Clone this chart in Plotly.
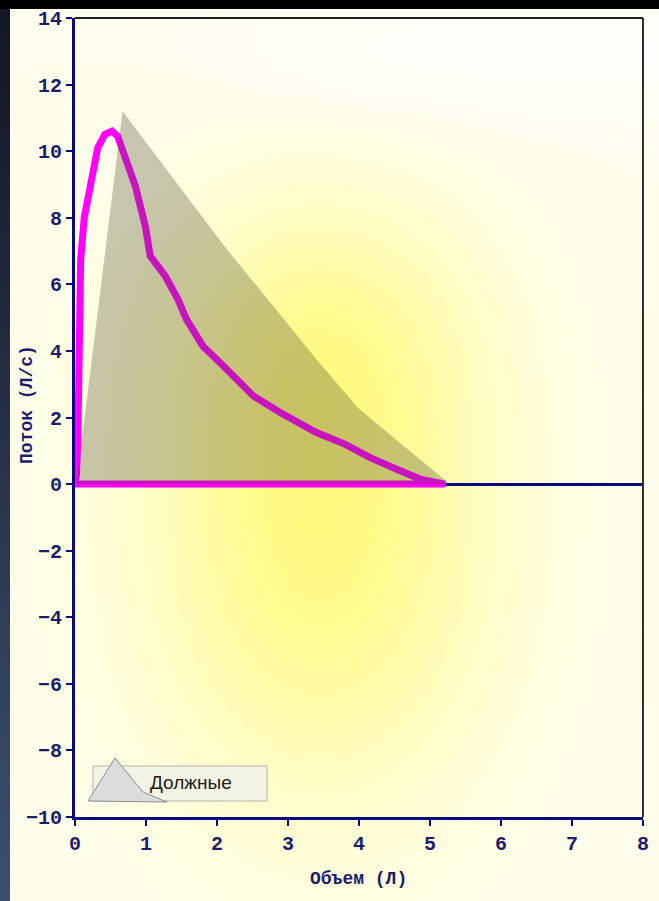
import base64, struct, zlib
import numpy as np
import plotly.graph_objects as go

# ---- data ----
measured_volume = [0.0, 0.02, 0.04, 0.05, 0.065, 0.08, 0.13, 0.22, 0.32, 0.42, 0.52, 0.60, 0.66,
                   0.85, 0.99, 1.06, 1.27, 1.45, 1.57, 1.80, 2.09, 2.51, 2.89, 3.40, 3.80, 4.15,
                   4.58, 4.86, 5.21, 0.0]
measured_flow = [0.0, 0.25, 1.35, 4.05, 5.5, 6.75, 8.0, 9.05, 10.1, 10.5, 10.6, 10.45, 10.05,
                 8.95, 7.75, 6.85, 6.25, 5.55, 4.95, 4.15, 3.55, 2.65, 2.15, 1.55, 1.2, 0.8,
                 0.4, 0.15, 0.0, 0.0]
predicted_volume = [0.02, 0.67, 2.14, 3.40, 3.98, 4.60, 5.28, 0.02]
predicted_flow = [0.0, 11.2, 7.05, 3.75, 2.3, 1.2, 0.0, 0.0]
predicted_name = "Должные"
x_ticks = [0, 1, 2, 3, 4, 5, 6, 7, 8]
y_ticks = [-10, -8, -6, -4, -2, 0, 2, 4, 6, 8, 10, 12, 14]
x_title = "Объем (Л)"
y_title = "Поток (Л/с)"

W, H = 659, 901
L, R, T, B = 75, 16, 18, 84
PW, PH = W - L - R, H - T - B


def px(x):   # page pixel -> paper x
    return (x - L) / PW


def py(y):   # page pixel -> paper y
    return (H - B - y) / PH


# ---- background gradient image ----
yy, xx = np.mgrid[0:H, 0:W].astype(float)
base = np.array([255, 255, 238], float)
yellow = np.array([255, 250, 120], float)
t1 = 0.9 * np.exp(-(((xx - 320) / 170) ** 2 + ((yy - 530) / 260) ** 2))
t2 = 0.35 * np.exp(-(((xx - 320) / 150) ** 2 + ((yy - 330) / 130) ** 2))
t = np.clip(t1 + t2, 0, 1)[..., None]
img = base * (1 - t) + yellow * t
sig = 1 / (1 + np.exp(-(xx - 260) / 60))
tw = (0.85 * np.exp(-(((yy - 50) / 70) ** 2)) * sig)[..., None]
img = img * (1 - tw) + np.array([255, 255, 253]) * tw
strip = xx < 10
frac = (yy / H)[..., None]
navy = np.array([18, 22, 34]) * (1 - frac) + np.array([62, 80, 110]) * frac
img = np.where(strip[..., None], navy, img)
img[:9, :, :] = 0
img = np.clip(img, 0, 255).astype(np.uint8)


def png_bytes(a):
    h, w, _ = a.shape
    raw = b"".join(b"\x00" + a[i].tobytes() for i in range(h))

    def chunk(tag, data):
        c = struct.pack(">I", len(data)) + tag + data
        return c + struct.pack(">I", zlib.crc32(tag + data) & 0xffffffff)

    return (b"\x89PNG\r\n\x1a\n" + chunk(b"IHDR", struct.pack(">IIBBBBB", w, h, 8, 2, 0, 0, 0))
            + chunk(b"IDAT", zlib.compress(raw, 9)) + chunk(b"IEND", b""))


src = "data:image/png;base64," + base64.b64encode(png_bytes(img)).decode()

navy_c = "#0a0a80"
tick_font = dict(family="Liberation Mono", size=20, color="#1c1c6c", weight="bold")
title_font = dict(family="Liberation Mono", size=18, color="#1c1c6c", weight="bold")

fig = go.Figure()
fig.add_trace(go.Scatter(x=measured_volume, y=measured_flow, mode="lines",
                         line=dict(color="#ff00ff", width=7), showlegend=False,
                         hoverinfo="skip"))
fig.add_trace(go.Scatter(x=predicted_volume, y=predicted_flow, mode="none", fill="toself",
                         fillcolor="rgba(70,65,40,0.3)", name=predicted_name,
                         showlegend=False))

# legend box drawn as decoration (box + triangle icon + label)
legend_box = dict(type="rect", xref="paper", yref="paper", x0=px(93), x1=px(267),
                  y0=py(801), y1=py(766), fillcolor="#f4f4e4",
                  line=dict(color="#b4b4a4", width=1), layer="above")
legend_icon = dict(type="path", xref="paper", yref="paper",
                   path=f"M {px(88)} {py(801)} L {px(115)} {py(758)} L {px(143)} {py(792)} "
                        f"L {px(167)} {py(802)} Z",
                   fillcolor="#dcdcdc", line=dict(color="#8c8c8c", width=1), layer="above")

fig.update_layout(
    width=W, height=H, autosize=False,
    margin=dict(l=L, r=R, t=T, b=B, autoexpand=False),
    paper_bgcolor="#fdfde9", plot_bgcolor="rgba(0,0,0,0)",
    images=[dict(source=src, xref="paper", yref="paper", x=-L / PW, y=1 + T / PH,
                 sizex=W / PW, sizey=H / PH, sizing="stretch", layer="below",
                 xanchor="left", yanchor="top")],
    showlegend=False,
    xaxis=dict(range=[0, 8], tickvals=x_ticks, ticks="outside", ticklen=6, tickwidth=2,
               tickcolor=navy_c, showgrid=False, zeroline=False, showline=True,
               linecolor=navy_c, linewidth=3, tickfont=tick_font, layer="above traces",
               automargin=False),
    yaxis=dict(range=[-10, 14], tickvals=y_ticks, ticks="outside", ticklen=6, tickwidth=2,
               tickcolor=navy_c, showgrid=False, zeroline=True, zerolinecolor=navy_c,
               zerolinewidth=3, showline=True, linecolor=navy_c, linewidth=3,
               tickfont=tick_font, layer="above traces", automargin=False),
    shapes=[dict(type="line", xref="paper", yref="paper", x0=0, x1=1, y0=1, y1=1,
                 line=dict(color="#202020", width=2)),
            dict(type="line", xref="paper", yref="paper", x0=1, x1=1, y0=0, y1=1,
                 line=dict(color="#303030", width=2)),
            legend_box, legend_icon],
    annotations=[
        dict(text=x_title, xref="paper", yref="paper", x=px(358), y=py(879), showarrow=False,
             xanchor="center", yanchor="middle", font=title_font),
        dict(text=y_title, xref="paper", yref="paper", x=px(27), y=py(405),
             showarrow=False, textangle=-90, xanchor="center", yanchor="middle",
             font=title_font),
        dict(text=predicted_name, xref="paper", yref="paper", x=px(148), y=py(782),
             showarrow=False, xanchor="left", yanchor="middle",
             font=dict(family="Liberation Sans", size=19, color="#202020")),
    ],
)

fig.write_html("out.html", config={"displayModeBar": False},
               post_script="document.body.style.margin='0';document.body.style.overflow='hidden';")
